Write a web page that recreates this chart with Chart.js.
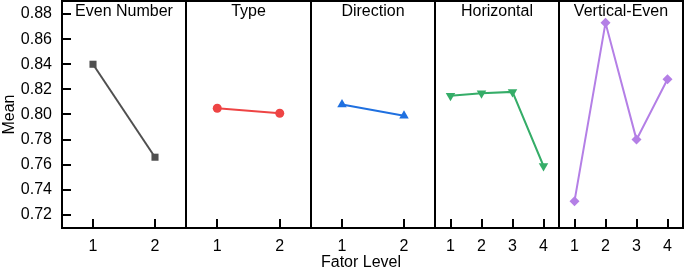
<!DOCTYPE html>
<html>
<head>
<meta charset="utf-8">
<script src="https://cdn.jsdelivr.net/npm/chart.js@4.4.1/dist/chart.umd.min.js"></script>
<style>
  body { margin: 0; background: #fff; }
  #wrap { position: relative; width: 685px; height: 269px; font-family: "Liberation Sans", Arial, sans-serif; }
  #wrap canvas { position: absolute; top: 0; }
  #xlab { position: absolute; left: 0; width: 722px; top: 252px; text-align: center; font-size: 16px; line-height: 20px; color: #000; }
</style>
</head>
<body>
<div id="wrap">
  <canvas id="p0"></canvas>
  <canvas id="p1"></canvas>
  <canvas id="p2"></canvas>
  <canvas id="p3"></canvas>
  <canvas id="p4"></canvas>
  <div id="xlab">Fator Level</div>
</div>
<script>
// Datos
const factors = ['Even Number', 'Type', 'Direction', 'Horizontal', 'Vertical-Even'];
const levels2 = ['1', '2'];
const levels4 = ['1', '2', '3', '4'];
const evenNumber = [0.840, 0.766];
const type = [0.805, 0.801];
const direction = [0.808, 0.799];
const horizontal = [0.815, 0.817, 0.818, 0.759];
const verticalEven = [0.731, 0.873, 0.780, 0.828];
const yTicks = [0.72, 0.74, 0.76, 0.78, 0.80, 0.82, 0.84, 0.86, 0.88];

const series = [evenNumber, type, direction, horizontal, verticalEven];
const labels = [levels2, levels2, levels2, levels4, levels4];
const colors = ['#505050', '#ee4444', '#1f70e0', '#35ad68', '#b47fe6'];
const shapes = ['rect', 'circle', 'triangle', 'triangle', 'rectRot'];
const rotations = [0, 0, 0, 180, 0];
const radii = [5, 4.5, 5.5, 5.5, 5];
const edges = [62, 186, 311, 435, 559, 683];

const font = { family: '"Liberation Sans", Arial, sans-serif', size: 16 };

// marco, ticks hacia dentro y titulo de cada panel
const frame = {
  id: 'frame',
  afterDraw(chart, args, opts) {
    const { ctx, chartArea: a, scales } = chart;
    ctx.save();
    ctx.strokeStyle = '#000';
    ctx.lineWidth = 2;
    ctx.strokeRect(a.left, a.top, a.right - a.left, a.bottom - a.top);
    ctx.beginPath();
    scales.x.ticks.forEach((t, i) => {
      const px = Math.round(scales.x.getPixelForTick(i));
      ctx.moveTo(px, a.bottom);
      ctx.lineTo(px, a.bottom - 9);
    });
    if (opts.yTicks) {
      scales.y.ticks.forEach((t, i) => {
        const py = Math.round(scales.y.getPixelForTick(i));
        ctx.moveTo(a.left, py);
        ctx.lineTo(a.left + 9, py);
      });
    }
    ctx.stroke();
    ctx.fillStyle = '#000';
    ctx.font = '16px "Liberation Sans", Arial, sans-serif';
    ctx.textAlign = 'center';
    ctx.textBaseline = 'middle';
    ctx.fillText(opts.title, (a.left + a.right) / 2, a.top + 11);
    ctx.restore();
  }
};

factors.forEach((name, k) => {
  const first = k === 0;
  const canvas = document.getElementById('p' + k);
  const left = first ? 0 : edges[k] - 1;
  const width = edges[k + 1] + 1 - left;
  canvas.style.left = left + 'px';
  canvas.width = width;
  canvas.height = 269;

  new Chart(canvas, {
    type: 'line',
    data: {
      labels: labels[k],
      datasets: [{
        label: name,
        data: series[k],
        borderColor: colors[k],
        backgroundColor: colors[k],
        borderWidth: 2,
        pointStyle: shapes[k],
        pointRotation: rotations[k],
        pointRadius: radii[k],
        pointBorderWidth: 0,
        fill: false,
        tension: 0
      }]
    },
    options: {
      responsive: false,
      animation: false,
      layout: { autoPadding: false, padding: { top: 1, left: first ? 0 : 1, right: 1, bottom: 0 } },
      plugins: {
        legend: { display: false },
        tooltip: { enabled: false },
        frame: { title: name, yTicks: first }
      },
      scales: {
        x: {
          type: 'category',
          offset: true,
          grid: { display: false, drawTicks: false },
          border: { display: false },
          ticks: { color: '#000', font: font, padding: 9, maxRotation: 0 },
          afterFit: s => { s.height = 41; s.paddingLeft = 0; s.paddingRight = 0; }
        },
        y: {
          display: first,
          min: 0.70965,
          max: 0.89035,
          grid: { display: false, drawTicks: false },
          border: { display: false },
          ticks: { color: '#000', font: font, padding: 10, callback: v => v.toFixed(2) },
          title: { display: true, text: 'Mean', color: '#000', font: font, padding: 0 },
          afterBuildTicks: s => { s.ticks = yTicks.map(v => ({ value: v })); },
          afterFit: s => {
            s.width = first ? 62 : 0;
            s.paddingTop = 0;
            s.paddingBottom = 0;
          }
        }
      }
    },
    plugins: [frame]
  });
});
</script>
</body>
</html>
